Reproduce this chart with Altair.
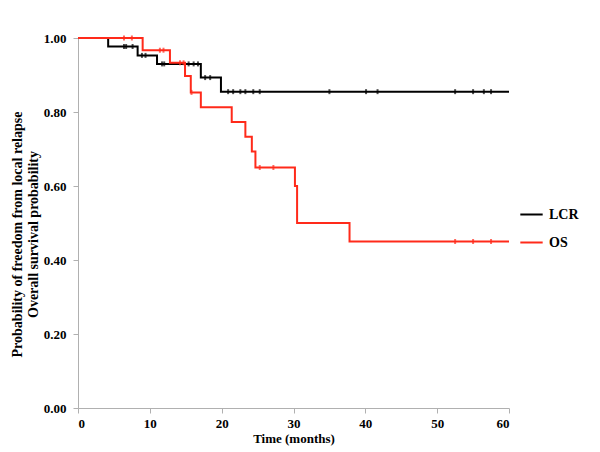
import altair as alt
import pandas as pd

# ---- data ----
lcr_times = [0, 4.2, 8.3, 11.0, 17.1, 19.9]
lcr_surv = [1.0, 0.977, 0.953, 0.930, 0.893, 0.855]
lcr_censor = [6.4, 6.7, 7.6, 8.9, 9.4, 11.7, 12.0, 15.4, 16.1, 16.7, 17.7, 18.4,
              20.9, 21.6, 22.6, 23.3, 24.4, 25.3, 35.0, 40.1, 41.7, 52.5, 55.0, 56.5, 57.5]

os_times = [0, 9.0, 12.8, 14.9, 15.7, 17.1, 21.4, 23.3, 24.2, 24.7, 30.2, 30.5, 37.8]
os_surv = [1.0, 0.967, 0.933, 0.897, 0.853, 0.813, 0.773, 0.733, 0.693, 0.650, 0.600, 0.500, 0.450]
os_censor = [6.4, 7.5, 11.4, 11.9, 14.2, 14.7, 15.8, 25.3, 27.2, 52.5, 55.0, 57.5]

series_names = ["LCR", "OS"]
series_colors = ["#000000", "#ff2a1a"]
end_time = 60
x_ticks = [0, 10, 20, 30, 40, 50, 60]
y_ticks = [0.0, 0.2, 0.4, 0.6, 0.8, 1.0]


def step_value(times, surv, t):
    v = surv[0]
    for ti, si in zip(times, surv):
        if ti <= t:
            v = si
    return v


rows = []
cens = []
for name, times, surv, cen in [("LCR", lcr_times, lcr_surv, lcr_censor),
                               ("OS", os_times, os_surv, os_censor)]:
    for i, (t, s) in enumerate(zip(times, surv)):
        rows.append({"series": name, "time": t, "surv": s, "order": i})
    rows.append({"series": name, "time": end_time, "surv": surv[-1], "order": len(times)})
    for t in cen:
        cens.append({"series": name, "time": t, "surv": step_value(times, surv, t)})

lines_df = pd.DataFrame(rows)
cens_df = pd.DataFrame(cens)

font = "Liberation Serif"

x_enc = alt.X("time:Q", scale=alt.Scale(domain=[0, 60], nice=False),
              axis=alt.Axis(values=x_ticks, title="Time (months)", format="d"))
y_enc = alt.Y("surv:Q", scale=alt.Scale(domain=[0, 1], nice=False),
              axis=alt.Axis(values=y_ticks, format=".2f", titleFontSize=14,
                            titleY=196, labelPadding=7, titlePadding=3,
                            title=["Probability of freedom from local relapse",
                                   "Overall survival probability"]))
color_enc = alt.Color("series:N",
                      scale=alt.Scale(domain=series_names, range=series_colors),
                      legend=alt.Legend(title=None, orient="none", legendX=441, legendY=164,
                                        symbolType="stroke", symbolStrokeWidth=2,
                                        symbolSize=500, labelFont=font, labelFontSize=14,
                                        labelFontWeight="bold", labelColor="#000",
                                        rowPadding=8, labelOffset=5))

lines = alt.Chart(lines_df).mark_line(interpolate="step-after", strokeWidth=2).encode(
    x=x_enc, y=y_enc, color=color_enc, order="order:Q")

ticks = alt.Chart(cens_df).mark_tick(orient="vertical", size=5, thickness=2).encode(
    x="time:Q", y="surv:Q",
    color=alt.Color("series:N", scale=alt.Scale(domain=series_names, range=series_colors),
                    legend=None))

chart = (lines + ticks).properties(
    width=431, height=370,
    autosize=alt.AutoSizeParams(type="none"),
    padding={"left": 70, "top": 30, "right": 80, "bottom": 40},
).configure_view(stroke=None).configure_axis(
    grid=False, domainColor="#b0b0b0", tickColor="#b0b0b0", tickSize=5,
    labelFont=font, labelFontSize=13, labelFontWeight="bold", labelColor="#000",
    titleFont=font, titleFontSize=13, titleFontWeight="bold", titleColor="#000",
    labelPadding=4,
).configure_axisX(titlePadding=2)

chart.save("out.html", embed_options={"renderer": "svg", "actions": False})
